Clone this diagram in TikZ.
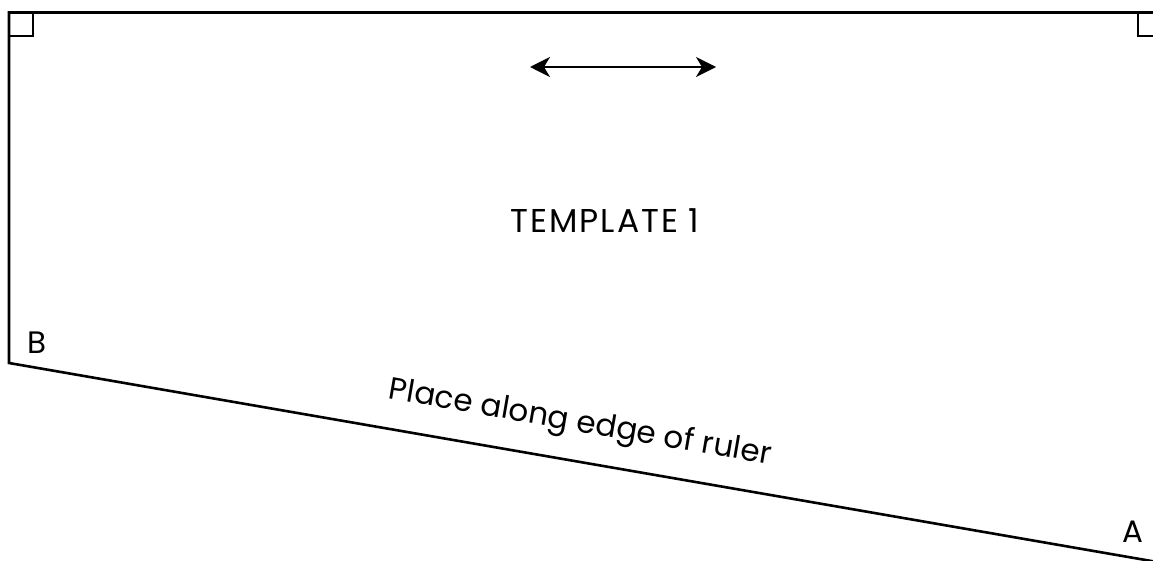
\documentclass[tikz,border=0pt]{standalone}
\usepackage{fontspec}
\setmainfont{Poppins}
\usetikzlibrary{arrows.meta}
\begin{document}
\begin{tikzpicture}[x=1pt,y=-1pt,
  edge/.style={line width=2.6pt,line cap=butt,line join=miter},
  lbl/.style={inner sep=0pt,font=\fontsize{31}{34}\selectfont},
  dbl/.style={line width=2pt,{Stealth[length=20pt,width=20pt,inset=6pt]}-{Stealth[length=20pt,width=20pt,inset=6pt]}}]
\useasboundingbox (0,0) rectangle (1153,561);
\coordinate (TL) at (9,12.5);
\coordinate (TR) at (1160,12.5);
\coordinate (BL) at (9,363);
\coordinate (BR) at (1160,562.5);
\draw[edge] (TR) -- (TL) -- (BL) -- (BR);
\draw[edge] (TL) rectangle (33,36);
\draw[edge] (1160,36) -- (1138,36) -- (1138,12.5);
\coordinate (al) at (530,67);
\coordinate (ar) at (716,67);
\draw[dbl] (al) -- (ar);
\node[lbl,font=\fontsize{33}{36}\selectfont\addfontfeature{LetterSpace=6}] (title) at (605,221) {TEMPLATE 1};
\node[lbl] (B) at (37,343) {B};
\node[lbl] (A) at (1133,532) {A};
\node[lbl,rotate=-9.8] (place) at (580,424) {Place along edge of ruler};
\end{tikzpicture}
\end{document}
